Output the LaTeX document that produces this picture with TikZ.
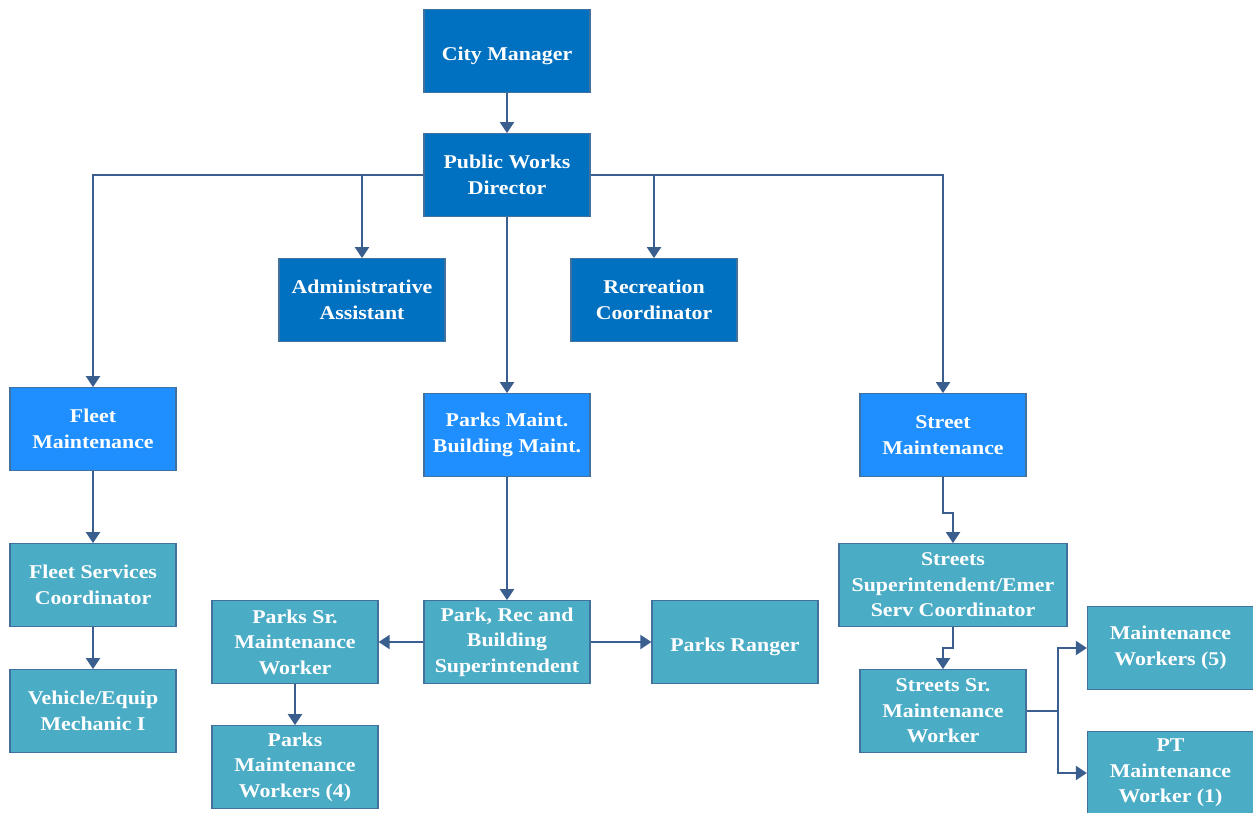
\documentclass[tikz,border=0pt]{standalone}
\usepackage{fontspec}
\setmainfont{Liberation Serif}[FakeStretch=1.12]
\usetikzlibrary{arrows.meta}
\definecolor{darkb}{HTML}{0070C0}
\definecolor{lightb}{HTML}{1F8FFF}
\definecolor{tealb}{HTML}{4BACC6}
\definecolor{edgeb}{HTML}{41719C}
\definecolor{linec}{HTML}{3A5F8F}
\newcommand{\lowtext}[1]{\raisebox{-5pt}[\height][\depth]{#1}}
\begin{document}
\begin{tikzpicture}[x=1pt,y=-1pt,
  box/.style={draw=edgeb,line width=1.3pt,minimum width=166pt,minimum height=82.5pt,
    inner sep=2pt,align=center,text=white,
    font=\fontsize{19.5}{25.5}\selectfont\bfseries},
  boxd/.style={box,fill=darkb},
  boxl/.style={box,fill=lightb},
  boxt/.style={box,fill=tealb},
  conn/.style={draw=linec,line width=2pt},
  arr/.style={conn,-{Triangle[width=14pt,length=11pt]}}]
\fill[white] (0,0) rectangle (1253,812);
\useasboundingbox (0,0) rectangle (1253,812);

\node[boxd] (cm) at (507,51) {\lowtext{City Manager}};
\node[boxd] (pwd) at (507,175) {Public Works\\Director};
\node[boxd] (admin) at (362,300) {Administrative\\Assistant};
\node[boxd] (rec) at (654,300) {Recreation\\Coordinator};
\node[boxl] (fleet) at (93,429) {Fleet\\Maintenance};
\node[boxl] (parks) at (507,435) {Parks Maint.\\Building Maint.};
\node[boxl] (street) at (943,435) {Street\\Maintenance};
\node[boxt] (fsc) at (93,585) {Fleet Services\\Coordinator};
\node[boxt] (veh) at (93,711) {Vehicle/Equip\\Mechanic I};
\node[boxt] (psr) at (295,642) {Parks Sr.\\Maintenance\\Worker};
\node[boxt] (sup) at (507,642) {Park, Rec and\\Building\\Superintendent};
\node[boxt] (ranger) at (735,642) {\lowtext{Parks Ranger}};
\node[boxt] (pmw) at (295,767) {Parks\\Maintenance\\Workers (4)};
\node[boxt,minimum width=228pt] (ssup) at (953,585) {Streets\\Superintendent/Emer\\Serv Coordinator};
\node[boxt] (ssr) at (943,711) {Streets Sr.\\Maintenance\\Worker};
\node[boxt] (mw5) at (1170.5,648) {Maintenance\\Workers (5)};
\node[boxt] (pt) at (1170.5,773) {PT\\Maintenance\\Worker (1)};

\draw[arr] (cm) -- (pwd);
\draw[arr] (pwd.west) -| (fleet.north);
\draw[arr] (pwd.east) -| (street.north);
\draw[arr] (pwd.west -| admin.north) -- (admin.north);
\draw[arr] (pwd.east -| rec.north) -- (rec.north);
\draw[arr] (pwd) -- (parks);
\draw[arr] (fleet) -- (fsc);
\draw[arr] (fsc) -- (veh);
\draw[arr] (parks) -- (sup);
\draw[arr] (sup) -- (psr);
\draw[arr] (sup) -- (ranger);
\draw[arr] (psr) -- (pmw);
\draw[arr] (street.south) -- ++(0,36) -| (ssup.north);
\draw[arr] (ssup.south) -- ++(0,21.5) -| (ssr.north);
\draw[conn] (ssr.east) -- ++(31,0) coordinate (j);
\draw[arr] (j) |- (mw5.west);
\draw[arr] (j) |- (pt.west);
\end{tikzpicture}
\end{document}
